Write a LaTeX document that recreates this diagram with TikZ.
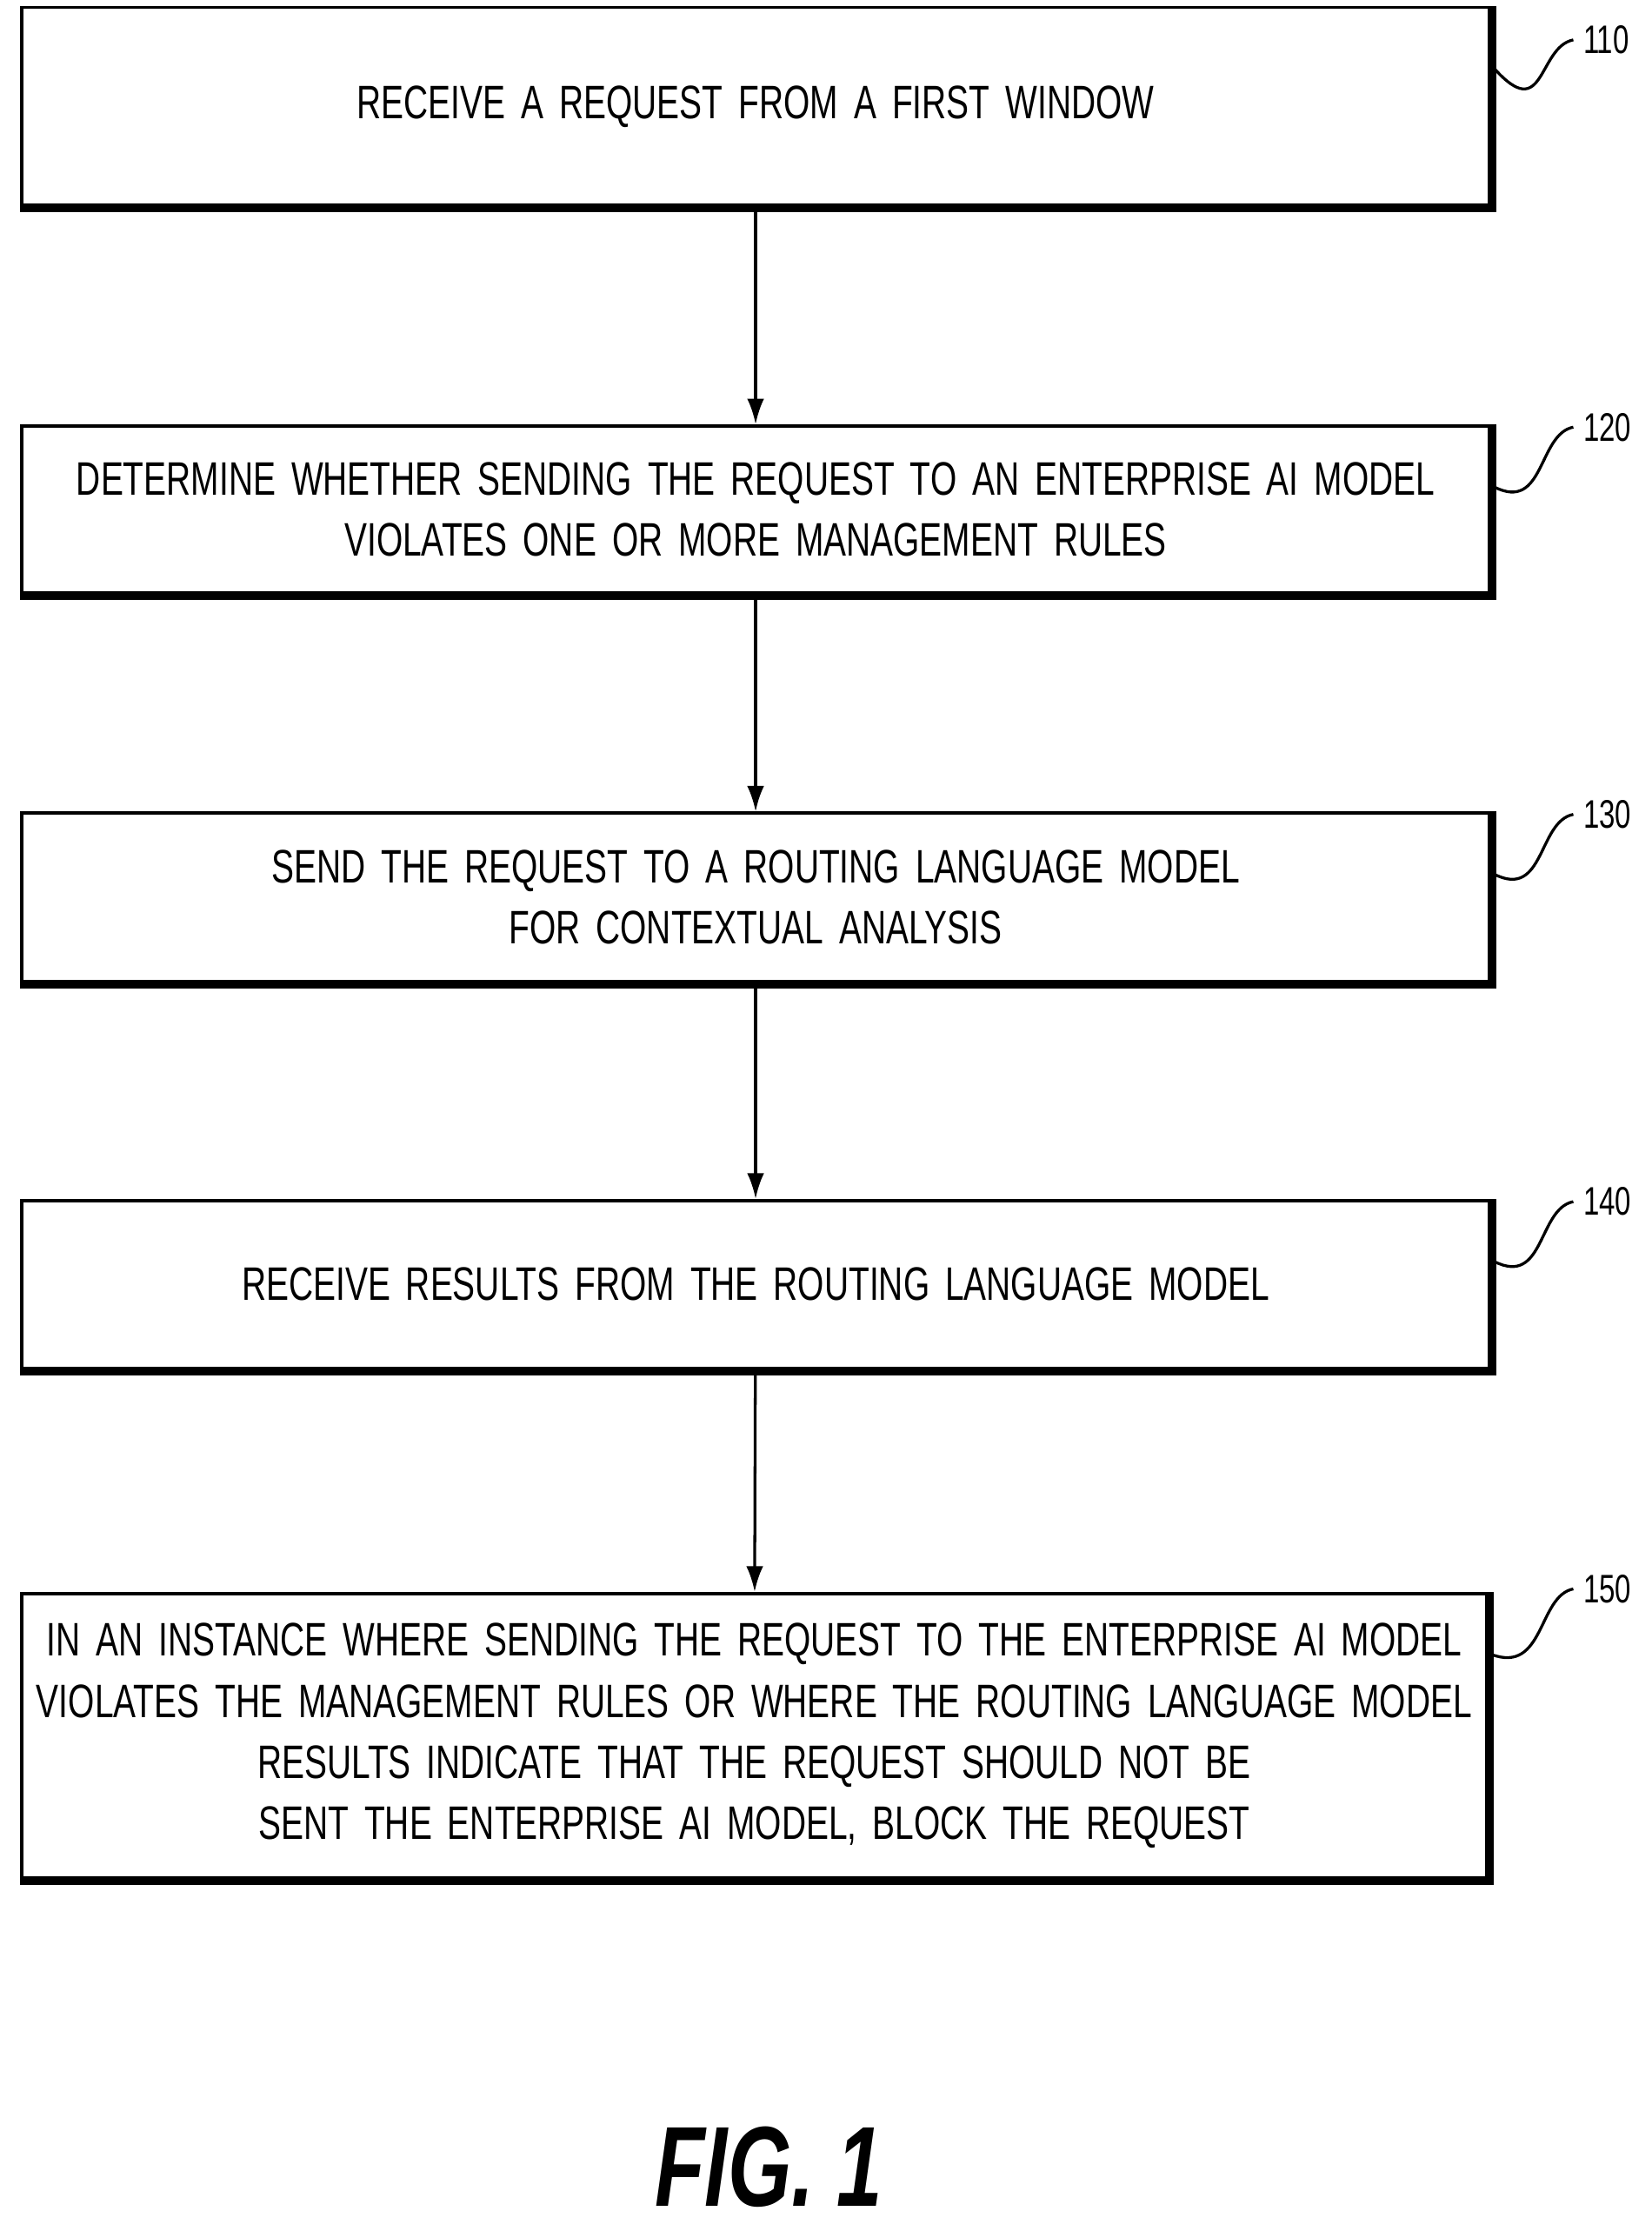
\documentclass[tikz,border=0pt]{standalone}
\usepackage{fontspec}
\usetikzlibrary{arrows.meta}
\setmainfont{Liberation Sans}[FakeStretch=0.72]
\begin{document}
\begin{tikzpicture}[x=0.5pt,y=-0.5pt,
  box/.style={draw,line width=1.2pt,text width=515.5pt,inner sep=0pt,align=center,font=\fontsize{16.5}{21.5}\selectfont,anchor=north west},
  lab/.style={font=\fontsize{14}{16}\selectfont},
  arr/.style={-{Latex[length=9pt,width=6pt]},line width=1pt}]
\useasboundingbox (0,0) rectangle (1160,1567);
\node[box,minimum height=69.5pt] (b1) at (14,4) {RECEIVE A REQUEST FROM A FIRST WINDOW};
\node[box,minimum height=58.5pt] (b2) at (14,298) {DETERMINE WHETHER SENDING THE REQUEST TO AN ENTERPRISE AI MODEL\\VIOLATES ONE OR MORE MANAGEMENT RULES};
\node[box,minimum height=59pt] (b3) at (14,570) {SEND THE REQUEST TO A ROUTING LANGUAGE MODEL\\FOR CONTEXTUAL ANALYSIS};
\node[box,minimum height=59pt] (b4) at (14,842) {RECEIVE RESULTS FROM THE ROUTING LANGUAGE MODEL};
\node[box,minimum height=100pt,text width=514.5pt] (b5) at (14,1118) {IN AN INSTANCE WHERE SENDING THE REQUEST TO THE ENTERPRISE AI MODEL\\VIOLATES THE MANAGEMENT RULES OR WHERE THE ROUTING LANGUAGE MODEL\\RESULTS INDICATE THAT THE REQUEST SHOULD NOT BE\\SENT THE ENTERPRISE AI MODEL, BLOCK THE REQUEST};
\foreach \b in {b1,b2,b3,b4,b5}{
  \draw[line width=2.2pt] ([xshift=0.8pt]\b.north east) -- ([xshift=0.8pt,yshift=-0.8pt]\b.south east) -- ([yshift=-0.8pt]\b.south west);}
\draw[arr] (b1) -- (b2);
\draw[arr] (b2) -- (b3);
\draw[arr] (b3) -- (b4);
\draw[arr] (b4) -- (b5);
\foreach \b/\n/\y in {b1/110/28,b2/120/300,b3/130/572,b4/140/844,b5/150/1116}{
  \node[lab,anchor=west] (l\n) at (1105,\y) {\n};
  \draw[line width=1pt] ([xshift=1pt,yshift=-22pt]\b.north east) .. controls (1085,{\y+60}) and (1080,{\y+5}) .. (l\n.west);
}
\node[font=\fontsize{40}{44}\selectfont\bfseries\itshape] (fig) at (540,1522) {FIG. 1};
\end{tikzpicture}
\end{document}
